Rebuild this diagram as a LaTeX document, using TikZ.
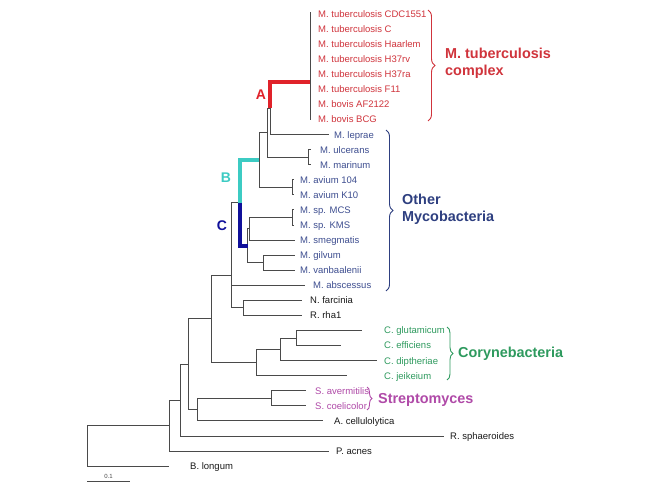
\documentclass[tikz,border=0pt]{standalone}
\usepackage{fontspec}
\setmainfont{Liberation Sans}
\usetikzlibrary{decorations.pathreplacing}
\definecolor{tbred}{HTML}{D0343C}
\definecolor{hired}{HTML}{E0222A}
\definecolor{myblue}{HTML}{3E4E90}
\definecolor{grpblue}{HTML}{2E3F80}
\definecolor{hicyan}{HTML}{3CCBC3}
\definecolor{hinavy}{HTML}{10109A}
\definecolor{cgreen}{HTML}{2E9A5E}
\definecolor{spurple}{HTML}{B04AA8}
\definecolor{lgrey}{HTML}{4A4A4A}
\definecolor{ink}{HTML}{1A1A1A}
\newcommand\mkleaf[6]{\coordinate (#1) at (#2,#4); \node[leaf,#5] (#1-lab) at (#3,#4) {#6};}
\begin{document}
\begin{tikzpicture}[x=1pt,y=-1pt,
 br/.style={draw=lgrey,line width=1pt},
 hi/.style={line width=3.6pt},
 leaf/.style={anchor=west,inner sep=0pt,text height=6.8pt,text depth=0pt,font=\fontsize{9.5}{11}\selectfont,text=ink},
 tbl/.style={text=tbred},
 oml/.style={text=myblue},
 cgl/.style={text=cgreen},
 spl/.style={text=spurple},
 grp/.style={anchor=west,inner sep=0pt,align=left,font=\bfseries\fontsize{14.4}{17}\selectfont},
 brc/.style={decorate,decoration={brace,amplitude=#1},line width=0.9pt},
 lett/.style={font=\bfseries\fontsize{14}{16}\selectfont,inner sep=0pt}
]
\fill[white] (0,0) rectangle (650,487);
\useasboundingbox (0,0) rectangle (650,487);

% internal nodes
\coordinate (root) at (87,425.55);
\coordinate (n12) at (169,425.55);
\coordinate (n11) at (180,400.1);
\coordinate (n9) at (188,364.2);
\coordinate (n10) at (197,409.6);
\coordinate (strep) at (271,398.3);
\coordinate (n8) at (211,318.75);
\coordinate (n13) at (256,362.5);
\coordinate (n14) at (280,349.3);
\coordinate (n15) at (296,338);
\coordinate (n7) at (231,275);
\coordinate (n16) at (243,307.85);
\coordinate (n4) at (240,202.85);
\coordinate (n3) at (259,160);
\coordinate (avium) at (292,187.3);
\coordinate (n2) at (267,132.7);
\coordinate (ulc) at (308,157.15);
\coordinate (nA) at (270,108.3);
\coordinate (tb) at (310,82);
\coordinate (tbtop) at (310,12.5);
\coordinate (tbbot) at (310,120);
\coordinate (n5) at (247.5,245.7);
\coordinate (n6) at (249.5,228.8);
\coordinate (mcs) at (292,217.45);
\coordinate (gil) at (263,262.65);

% leaves
\node[leaf,tbl] (tb1) at (318,14.0) {M. tuberculosis CDC1551};
\node[leaf,tbl] (tb2) at (318,29.1) {M. tuberculosis C};
\node[leaf,tbl] (tb3) at (318,44.1) {M. tuberculosis Haarlem};
\node[leaf,tbl] (tb4) at (318,59.2) {M. tuberculosis H37rv};
\node[leaf,tbl] (tb5) at (318,74.3) {M. tuberculosis H37ra};
\node[leaf,tbl] (tb6) at (318,89.4) {M. tuberculosis F11};
\node[leaf,tbl] (tb7) at (318,104.4) {M. bovis AF2122};
\node[leaf,tbl] (tb8) at (318,119.5) {M. bovis BCG};
\mkleaf{lepr}{329}{334}{134.6}{oml}{M. leprae}
\mkleaf{ulce}{311}{320}{149.6}{oml}{M. ulcerans}
\mkleaf{mari}{311}{320}{164.7}{oml}{M. marinum}
\mkleaf{av104}{294}{300}{179.8}{oml}{M. avium 104}
\mkleaf{avk10}{294}{300}{194.8}{oml}{M. avium K10}
\mkleaf{msp1}{294}{300}{209.9}{oml}{M. sp. MCS}
\mkleaf{msp2}{294}{300}{225.0}{oml}{M. sp. KMS}
\mkleaf{smeg}{295}{300}{240.1}{oml}{M. smegmatis}
\mkleaf{gilv}{295}{300}{255.1}{oml}{M. gilvum}
\mkleaf{vanb}{295}{300}{270.2}{oml}{M. vanbaalenii}
\mkleaf{absc}{305}{313}{285.3}{oml}{M. abscessus}
\mkleaf{farc}{302}{310}{300.3}{}{N. farcinia}
\mkleaf{rha}{302}{310}{315.4}{}{R. rha1}
\mkleaf{glut}{362}{384}{330.5}{cgl}{C. glutamicum}
\mkleaf{effi}{341}{384}{345.5}{cgl}{C. efficiens}
\mkleaf{dipt}{377}{384}{360.6}{cgl}{C. diptheriae}
\mkleaf{jeik}{347}{384}{375.7}{cgl}{C. jeikeium}
\mkleaf{aver}{306}{315}{390.8}{spl}{S. avermitilis}
\mkleaf{coel}{306}{315}{405.8}{spl}{S. coelicolor}
\mkleaf{cell}{323}{334}{420.9}{}{A. cellulolytica}
\mkleaf{rsph}{444}{450}{436.0}{}{R. sphaeroides}
\mkleaf{pacn}{329}{336}{451.0}{}{P. acnes}
\mkleaf{blong}{169}{190}{466.1}{}{B. longum}

% branches
\draw[br] (root) |- (n12);  \draw[br] (root) |- (blong);
\draw[br] (n12) |- (n11);   \draw[br] (n12) |- (pacn);
\draw[br] (n11) |- (n9);    \draw[br] (n11) |- (rsph);
\draw[br] (n9) |- (n8);     \draw[br] (n9) |- (n10);
\draw[br] (n10) |- (strep); \draw[br] (n10) |- (cell);
\draw[br] (strep) |- (aver);\draw[br] (strep) |- (coel);
\draw[br] (n8) |- (n7);     \draw[br] (n8) |- (n13);
\draw[br] (n13) |- (n14);   \draw[br] (n13) |- (jeik);
\draw[br] (n14) |- (n15);   \draw[br] (n14) |- (dipt);
\draw[br] (n15) |- (glut);  \draw[br] (n15) |- (effi);
\draw[br] (n7) |- (n4);     \draw[br] (n7) |- (absc);  \draw[br] (n7) |- (n16);
\draw[br] (n16) |- (farc);  \draw[br] (n16) |- (rha);
\draw[br] (n3) |- (n2);     \draw[br] (n3) |- (avium);
\draw[br] (avium) |- (av104); \draw[br] (avium) |- (avk10);
\draw[br] (n2) |- (nA);     \draw[br] (n2) |- (ulc);
\draw[br] (ulc) |- (ulce);  \draw[br] (ulc) |- (mari);
\draw[br] (nA) |- (lepr);
\draw[br] (tbtop) -- (tbbot);
\draw[br] (n5) |- (n6);     \draw[br] (n5) |- (gil);
\draw[br] (n6) |- (mcs);    \draw[br] (n6) |- (smeg);
\draw[br] (mcs) |- (msp1);  \draw[br] (mcs) |- (msp2);
\draw[br] (gil) |- (gilv);  \draw[br] (gil) |- (vanb);
% highlighted branches
\draw[hi,hired] (nA) |- (tb);
\draw[hi,hicyan] (n4) |- (n3);
\draw[hi,hinavy] (n4) |- (n5);
\node[lett,text=hired] (la) at (261,95) {A};
\node[lett,text=hicyan] (lb) at (226,178) {B};
\node[lett,text=hinavy] (lc) at (222,226) {C};

% braces and group names
\draw[brc=7pt,tbred] (428,10) -- (428,121);
\node[grp,text=tbred] (gtb) at (445,63.5) {M. tuberculosis\\complex};
\draw[brc=7pt,grpblue] (386,130) -- (386,291);
\node[grp,text=grpblue] (gom) at (402,209) {Other\\Mycobacteria};
\draw[brc=6pt,cgreen] (447,327) -- (447,380);
\node[grp,text=cgreen] (gcg) at (458,354) {Corynebacteria};
\draw[brc=5pt,spurple] (367,387) -- (367,410);
\node[grp,text=spurple] (gsp) at (378,399.5) {Streptomyces};

% scale bar
\coordinate (sb1) at (87,481);
\coordinate (sb2) at (130,481);
\draw[br,line width=0.8pt] (sb1) -- (sb2);
\node[font=\fontsize{6}{7}\selectfont,text=lgrey,inner sep=0pt,anchor=south] (sbl) at (108.5,479) {0.1};
\end{tikzpicture}
\end{document}
